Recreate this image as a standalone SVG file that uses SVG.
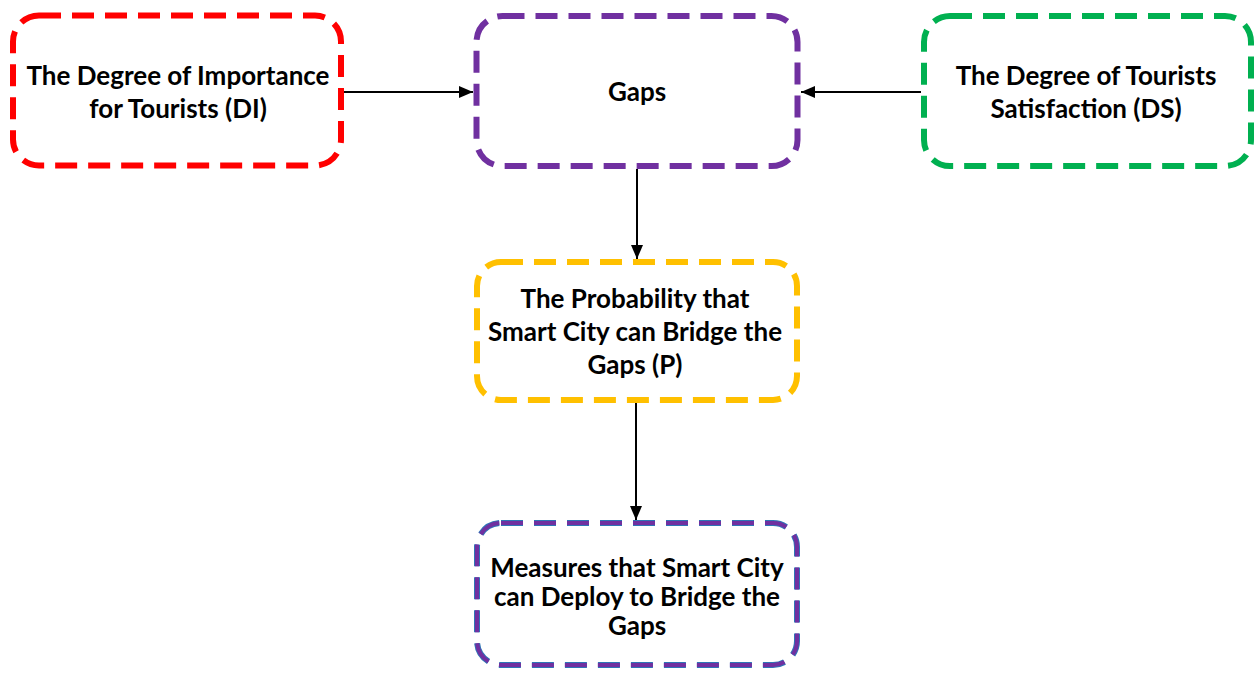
<svg xmlns="http://www.w3.org/2000/svg" width="1255" height="673" viewBox="0 0 1255 673">
  <style>
    .box { fill: #ffffff; stroke-width: 6; stroke-dasharray: 22 11; }
    .lbl { font-family: Lato, "Open Sans", "Liberation Sans", sans-serif; font-weight: bold; font-size: 26px; fill: #000000; text-anchor: middle; }
    .conn { stroke: #000000; stroke-width: 2; fill: none; marker-end: url(#head); }
  </style>
  <defs>
    <marker id="head" viewBox="0 0 14 12" refX="14" refY="6" markerWidth="14" markerHeight="12" markerUnits="userSpaceOnUse" orient="auto">
      <path d="M0,0 L14,6 L0,12 Z" fill="#000000"/>
    </marker>
  </defs>
  <rect width="1255" height="673" fill="#ffffff"/>

  <g id="connectors">
    <line class="conn" x1="344" y1="92" x2="473" y2="92"/>
    <line class="conn" x1="921" y1="92" x2="801" y2="92"/>
    <line class="conn" x1="637" y1="169" x2="637" y2="259"/>
    <line class="conn" x1="636" y1="403" x2="636" y2="520"/>
  </g>

  <g id="node-di">
    <rect class="box" x="13" y="15.5" width="328" height="150" rx="26" stroke="#ff0000"/>
    <text class="lbl" x="178" y="85">The Degree of Importance</text>
    <text class="lbl" x="178" y="118">for Tourists (DI)</text>
  </g>

  <g id="node-gaps">
    <rect class="box" x="476.5" y="16" width="321" height="150" rx="26" stroke="#7030a0"/>
    <text class="lbl" x="637" y="101">Gaps</text>
  </g>

  <g id="node-ds">
    <rect class="box" x="924" y="16" width="327" height="150" rx="26" stroke="#00b050"/>
    <text class="lbl" x="1086" y="85">The Degree of Tourists</text>
    <text class="lbl" x="1086" y="118">Satisfaction (DS)</text>
  </g>

  <g id="node-p">
    <rect class="box" x="477" y="262" width="320" height="138" rx="24" stroke="#ffc000"/>
    <text class="lbl" x="635" y="308">The Probability that</text>
    <text class="lbl" x="635" y="341">Smart City can Bridge the</text>
    <text class="lbl" x="635" y="374">Gaps (P)</text>
  </g>

  <g id="node-measures">
    <rect class="box" x="477" y="523" width="320" height="142" rx="24" stroke="#2e75b6"/>
    <rect x="477" y="523" width="320" height="142" rx="24" fill="none" stroke="#7030a0" stroke-width="4" stroke-dasharray="22 11"/>
    <text class="lbl" x="637" y="577">Measures that Smart City</text>
    <text class="lbl" x="637" y="606">can Deploy to Bridge the</text>
    <text class="lbl" x="637" y="635">Gaps</text>
  </g>
</svg>
